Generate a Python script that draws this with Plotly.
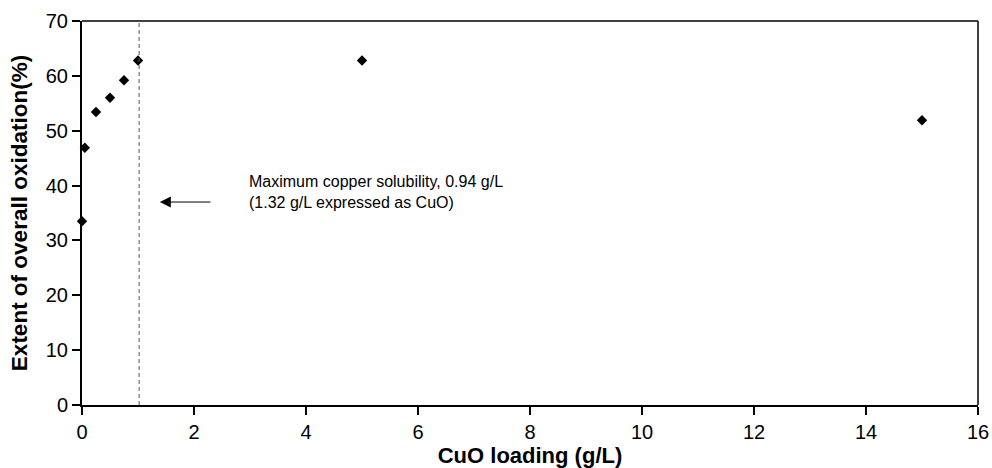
import plotly.graph_objects as go

# ---- data ----
cuo_loading = [0, 0.05, 0.25, 0.5, 0.75, 1.0, 5.0, 15.0]          # g/L
oxidation = [33.5, 46.9, 53.4, 56.0, 59.2, 62.8, 62.8, 51.9]        # %
solubility_x = 1.02                                                 # dashed marker line
note_lines = ["Maximum copper solubility, 0.94 g/L", "(1.32 g/L expressed as CuO)"]
note_x, note_y = 2.94, 38.9
arrow_tip = (1.39, 37.0)
arrow_tail = (2.32, 37.0)
x_ticks = list(range(0, 17, 2))
y_ticks = list(range(0, 71, 10))

FONT = "Liberation Sans, Arial, Helvetica, sans-serif"

fig = go.Figure()
fig.add_trace(go.Scatter(
    x=cuo_loading, y=oxidation, mode="markers",
    marker=dict(symbol="diamond", size=8, color="black"),
    cliponaxis=False, showlegend=False,
))

# dashed solubility line
fig.add_shape(type="line", xref="x", yref="y",
              x0=solubility_x, x1=solubility_x, y0=0, y1=70,
              line=dict(color="#555555", width=1, dash="4px,3px"))
# thin top / right frame
fig.add_shape(type="line", xref="paper", yref="paper", x0=0, x1=1, y0=1, y1=1,
              line=dict(color="black", width=1.5))
fig.add_shape(type="line", xref="paper", yref="paper", x0=1, x1=1, y0=0, y1=1,
              line=dict(color="black", width=1.5))

# arrow
fig.add_annotation(x=arrow_tip[0], y=arrow_tip[1], ax=arrow_tail[0], ay=arrow_tail[1],
                   xref="x", yref="y", axref="x", ayref="y", text="",
                   showarrow=True, arrowhead=2, arrowsize=2.2, arrowwidth=1,
                   arrowcolor="black")
# note text
fig.add_annotation(x=note_x, y=note_y, xref="x", yref="y", xanchor="left", yanchor="middle",
                   text="<br>".join(note_lines), align="left", showarrow=False,
                   font=dict(family=FONT, size=16, color="black"))

fig.update_layout(
    width=992, height=468,
    margin=dict(l=82, r=14, t=21, b=63),
    paper_bgcolor="white", plot_bgcolor="white",
    font=dict(family=FONT, color="black"),
    xaxis=dict(
        range=[0, 16], tickvals=x_ticks, ticktext=[str(v) for v in x_ticks],
        ticks="outside", ticklen=8, tickwidth=1.5, tickcolor="black",
        showline=True, linewidth=2, linecolor="black",
        showgrid=False, zeroline=False, automargin=False,
        tickfont=dict(size=20),
        title=dict(text="<b>CuO loading (g/L)</b>", font=dict(size=22), standoff=5),
    ),
    yaxis=dict(
        range=[0, 70], tickvals=y_ticks, ticktext=[str(v) for v in y_ticks],
        ticks="outside", ticklen=8, tickwidth=1.5, tickcolor="black",
        showline=True, linewidth=2, linecolor="black",
        showgrid=False, zeroline=False, automargin=False,
        tickfont=dict(size=20),
        title=dict(text="<b>Extent of overall oxidation(%)</b>", font=dict(size=22.5), standoff=12),
    ),
)

fig.write_html("out.html", config={"displayModeBar": False},
               post_script="document.body.style.margin='0';")
